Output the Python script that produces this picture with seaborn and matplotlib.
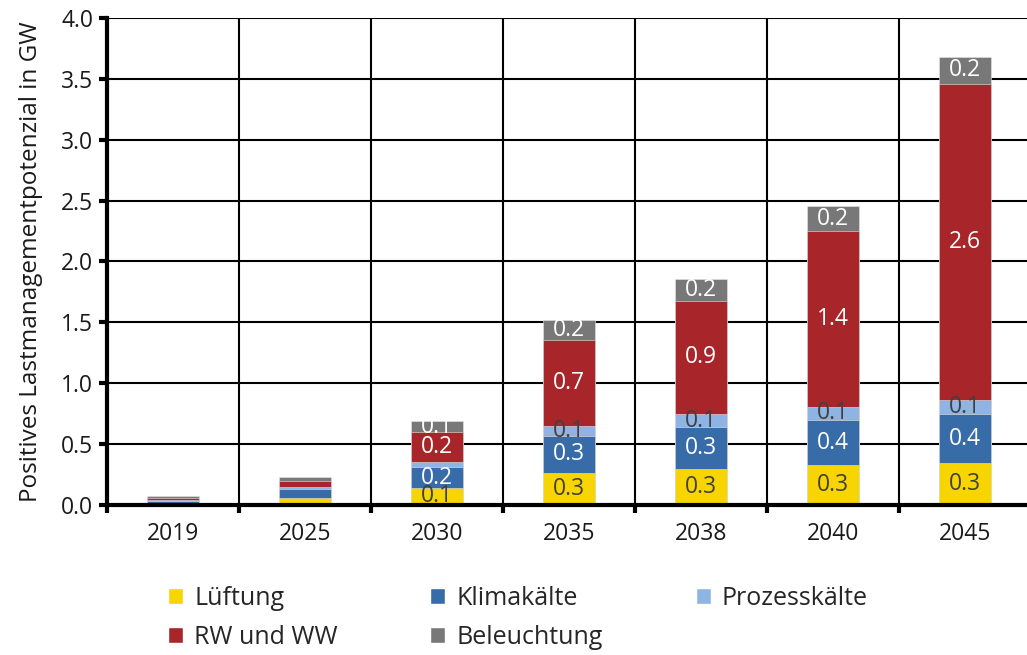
import numpy as np
import matplotlib
matplotlib.use("Agg")
import matplotlib.pyplot as plt
from matplotlib.patches import Patch
import seaborn as sns

# values (GW)
years = ["2019", "2025", "2030", "2035", "2038", "2040", "2045"]
lueftung = [0.003, 0.06, 0.14, 0.265, 0.296, 0.328, 0.345]
klimakaelte = [0.03, 0.069, 0.17, 0.30, 0.344, 0.37, 0.40]
prozesskaelte = [0.01, 0.016, 0.046, 0.08, 0.107, 0.109, 0.115]
rw_ww = [0.015, 0.049, 0.24, 0.71, 0.93, 1.44, 2.60]
beleuchtung = [0.017, 0.036, 0.096, 0.167, 0.18, 0.205, 0.22]

series_names = ["Lüftung", "Klimakälte", "Prozesskälte", "RW und WW", "Beleuchtung"]
series_vals = [lueftung, klimakaelte, prozesskaelte, rw_ww, beleuchtung]
colors = ["#F8D500", "#386CA8", "#8DB4E2", "#A8262A", "#787878"]
label_colors = ["#404040", "white", "#404040", "white", "white"]
first_labeled_year = "2030"

sns.set_theme(style="white")
plt.rcParams['font.family'] = ['Open Sans', 'DejaVu Sans']

fig = plt.figure(figsize=(10.27, 6.55), dpi=100)
ax = fig.add_axes([107 / 1027, 1 - 505 / 655, (1031 - 107) / 1027, (505 - 18) / 655])

vals = np.array(series_vals)
cum = np.cumsum(vals, axis=0)

# draw cumulative totals from the top layer down so each segment shows
for k in range(len(series_names) - 1, -1, -1):
    sns.barplot(x=years, y=cum[k], color=colors[k], saturation=1, width=0.4,
                edgecolor="#e6e6e6", linewidth=0.4, errorbar=None, ax=ax, zorder=3)

# segment labels (small ones overlap in the original too)
start = years.index(first_labeled_year)
for k in range(len(series_names)):
    for i in range(start, len(years)):
        v = vals[k, i]
        if v < 0.05:
            continue
        mid = cum[k, i] - v / 2
        ax.text(i, mid, f"{v:.1f}", ha="center", va="center", fontsize=16.5,
                color=label_colors[k], zorder=5)

ax.set_xlim(-0.5, len(years) - 0.5)
ax.set_ylim(0, 4.0)
ax.set_yticks(np.arange(0, 4.01, 0.5))
ax.set_yticklabels([f"{t:.1f}" for t in np.arange(0, 4.01, 0.5)])
ax.set_xticks(np.arange(len(years) + 1) - 0.5, minor=True)

ax.grid(axis="y", which="major", color="black", linewidth=1.5, zorder=0)
ax.grid(axis="x", which="minor", color="black", linewidth=1.5, zorder=0)
ax.set_axisbelow(True)

for side in ["top", "right"]:
    ax.spines[side].set_visible(False)
for side in ["left", "bottom"]:
    ax.spines[side].set_color("black")
    ax.spines[side].set_linewidth(3)
    ax.spines[side].set_zorder(6)

ax.tick_params(axis="x", which="major", length=0, labelsize=16.5, pad=12, colors="#1a1a1a")
ax.tick_params(axis="x", which="minor", length=6, width=3, color="black", bottom=True)
ax.tick_params(axis="y", which="major", length=6, width=3, color="black", left=True,
               labelsize=16.5, pad=4, labelcolor="#1a1a1a")

ax.set_xlabel("")
ax.set_ylabel("Positives Lastmanagementpotenzial in GW", fontsize=17.5, color="#1a1a1a", labelpad=13)

# legend, filled column-wise so rows read like the original
order = [0, 3, 1, 4, 2]
handles = [Patch(facecolor=colors[k], label=series_names[k]) for k in order]
fig.legend(handles=handles, ncol=3, loc="upper left", bbox_to_anchor=(168 / 1027, 1 - 586 / 655),
           frameon=False, fontsize=18, handlelength=0.6, handleheight=0.6,
           handletextpad=0.45, columnspacing=3.7, labelspacing=0.55, borderpad=0,
           borderaxespad=0)

fig.savefig("out.png", dpi=100)
